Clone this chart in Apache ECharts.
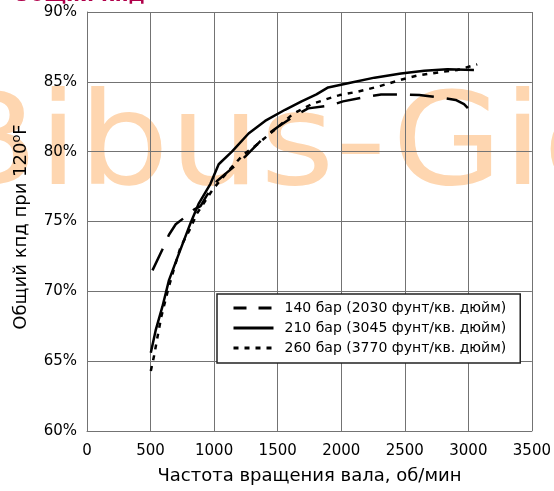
<!DOCTYPE html>
<html>
<head>
<meta charset="utf-8">
<script src="https://cdn.jsdelivr.net/npm/echarts@6/dist/echarts.min.js"></script>
<style>
  html, body { margin: 0; padding: 0; background: #fff; }
  #chart { width: 554px; height: 491px; }
</style>
</head>
<body>
<div id="chart"></div>
<script>
// Overall efficiency vs. shaft speed at three working pressures (oil at 120°F)
const seriesNames = [
  '140 бар (2030 фунт/кв. дюйм)',
  '210 бар (3045 фунт/кв. дюйм)',
  '260 бар (3770 фунт/кв. дюйм)'
];

// 140 bar
const rpm140 = [515, 593, 645, 698, 762, 841, 893, 945, 1023, 1100, 1193, 1250, 1401, 1506, 1649, 1740, 1910, 2014, 2209, 2314, 2496, 2614, 2796, 2900, 2966, 3044];
const eff140 = [71.5, 73.0, 74.05, 74.8, 75.25, 75.85, 76.1, 76.9, 77.9, 78.5, 79.2, 79.7, 81.1, 81.8, 82.65, 83.1, 83.3, 83.6, 83.95, 84.1, 84.1, 84.05, 83.85, 83.7, 83.4, 82.65];

// 210 bar
const rpm210 = [502, 540, 593, 645, 723, 815, 880, 971, 1036, 1140, 1271, 1401, 1558, 1688, 1805, 1897, 2053, 2262, 2470, 2653, 2835, 3044];
const eff210 = [65.6, 67.2, 68.9, 70.8, 72.7, 74.9, 76.3, 77.7, 79.1, 80.0, 81.3, 82.2, 83.0, 83.6, 84.1, 84.6, 84.9, 85.3, 85.6, 85.8, 85.9, 85.85];

// 260 bar
const rpm260 = [502, 528, 560, 585, 640, 690, 737, 802, 867, 932, 990, 1100, 1230, 1323, 1480, 1620, 1766, 1897, 1988, 2131, 2288, 2470, 2600, 2783, 2913, 3070];
const eff260 = [64.3, 65.4, 67.0, 68.2, 70.2, 71.8, 73.2, 74.3, 75.6, 76.5, 77.3, 78.5, 79.8, 80.4, 81.6, 82.7, 83.4, 83.8, 84.05, 84.3, 84.65, 85.15, 85.45, 85.7, 85.85, 86.25];

const xTicks = { min: 0, max: 3500, step: 500 };
const yTicks = { min: 60, max: 90, step: 5 };

const pairs = (xs, ys) => xs.map((x, i) => [x, ys[i]]);

const FONT = 'DejaVu Sans';
const GRID_COLOR = '#737373';

const dashLong = [24, 13];
const dashShort = [5, 6];
const hiddenSymbol = { color: 'rgba(0,0,0,0)', borderColor: 'rgba(0,0,0,0)', borderWidth: 0 };

const chart = echarts.init(document.getElementById('chart'), null, { renderer: 'canvas' });

chart.setOption({
  animation: false,
  backgroundColor: '#fff',
  grid: { left: 87, right: 19, top: 12, bottom: 60, containLabel: false },
  xAxis: {
    type: 'value',
    min: xTicks.min, max: xTicks.max, interval: xTicks.step,
    name: 'Частота вращения вала, об/мин',
    nameLocation: 'middle',
    nameGap: 36,
    nameTextStyle: { fontFamily: FONT, fontSize: 18, color: '#000' },
    axisLine: { show: true, lineStyle: { color: GRID_COLOR, width: 1 } },
    axisTick: { show: false },
    axisLabel: { fontFamily: FONT, fontSize: 15, color: '#000', margin: 13, formatter: v => String(v) },
    splitLine: { show: true, lineStyle: { color: GRID_COLOR, width: 1 } }
  },
  yAxis: {
    type: 'value',
    min: yTicks.min, max: yTicks.max, interval: yTicks.step,
    axisLine: { show: true, lineStyle: { color: GRID_COLOR, width: 1 } },
    axisTick: { show: false },
    axisLabel: { fontFamily: FONT, fontSize: 15, color: '#000', margin: 10, formatter: v => v + '%' },
    splitLine: { show: true, lineStyle: { color: GRID_COLOR, width: 1 } }
  },
  legend: {
    orient: 'vertical',
    left: 217, top: 294,
    padding: [7, 14, 8, 15],
    itemWidth: 40, itemHeight: 14, itemGap: 6,
    backgroundColor: '#fff',
    borderColor: '#222', borderWidth: 1.5,
    textStyle: { fontFamily: FONT, fontSize: 14, color: '#000', padding: [0, 0, 0, 6] },
    data: [
      { name: seriesNames[0], itemStyle: hiddenSymbol, lineStyle: { color: '#000', type: [13, 12], width: 3 } },
      { name: seriesNames[1], itemStyle: hiddenSymbol, lineStyle: { color: '#000', type: 'solid', width: 3 } },
      { name: seriesNames[2], itemStyle: hiddenSymbol, lineStyle: { color: '#000', type: [5, 6], width: 3 } }
    ]
  },
  graphic: [
    {
      type: 'text', z: -10, silent: true,
      x: -60, y: 215, scaleX: 1.12,
      style: {
        text: 'Bibus-Gid',
        font: '400 128px "DejaVu Sans"',
        fill: '#fed6b0',
        verticalAlign: 'bottom'
      }
    },
    {
      type: 'text', z: 50, silent: true,
      x: 13, y: -4,
      style: {
        text: 'Общий кпд',
        font: 'bold 20px "DejaVu Sans"',
        fill: '#b0004a',
        verticalAlign: 'middle'
      }
    },
    {
      type: 'text', z: 50, silent: true,
      x: 21, y: 227, rotation: Math.PI / 2,
      style: {
        text: '{a|Общий кпд при 120}{s|o}{a|F}',
        align: 'center',
        verticalAlign: 'middle',
        rich: {
          a: { fontFamily: FONT, fontSize: 18, color: '#000', lineHeight: 22 },
          s: { fontFamily: FONT, fontSize: 13, color: '#000', lineHeight: 12, verticalAlign: 'top' }
        }
      }
    }
  ],
  series: [
    {
      name: seriesNames[0], type: 'line', symbol: 'none', z: 3,
      itemStyle: { color: '#000' },
      data: pairs(rpm140, eff140),
      lineStyle: { color: '#000', width: 2.5, type: dashLong }
    },
    {
      name: seriesNames[1], type: 'line', symbol: 'none', z: 3,
      itemStyle: { color: '#000' },
      data: pairs(rpm210, eff210),
      lineStyle: { color: '#000', width: 2.5, type: 'solid' }
    },
    {
      name: seriesNames[2], type: 'line', symbol: 'none', z: 3,
      itemStyle: { color: '#000' },
      data: pairs(rpm260, eff260),
      lineStyle: { color: '#000', width: 2.5, type: dashShort }
    }
  ]
});
</script>
</body>
</html>
